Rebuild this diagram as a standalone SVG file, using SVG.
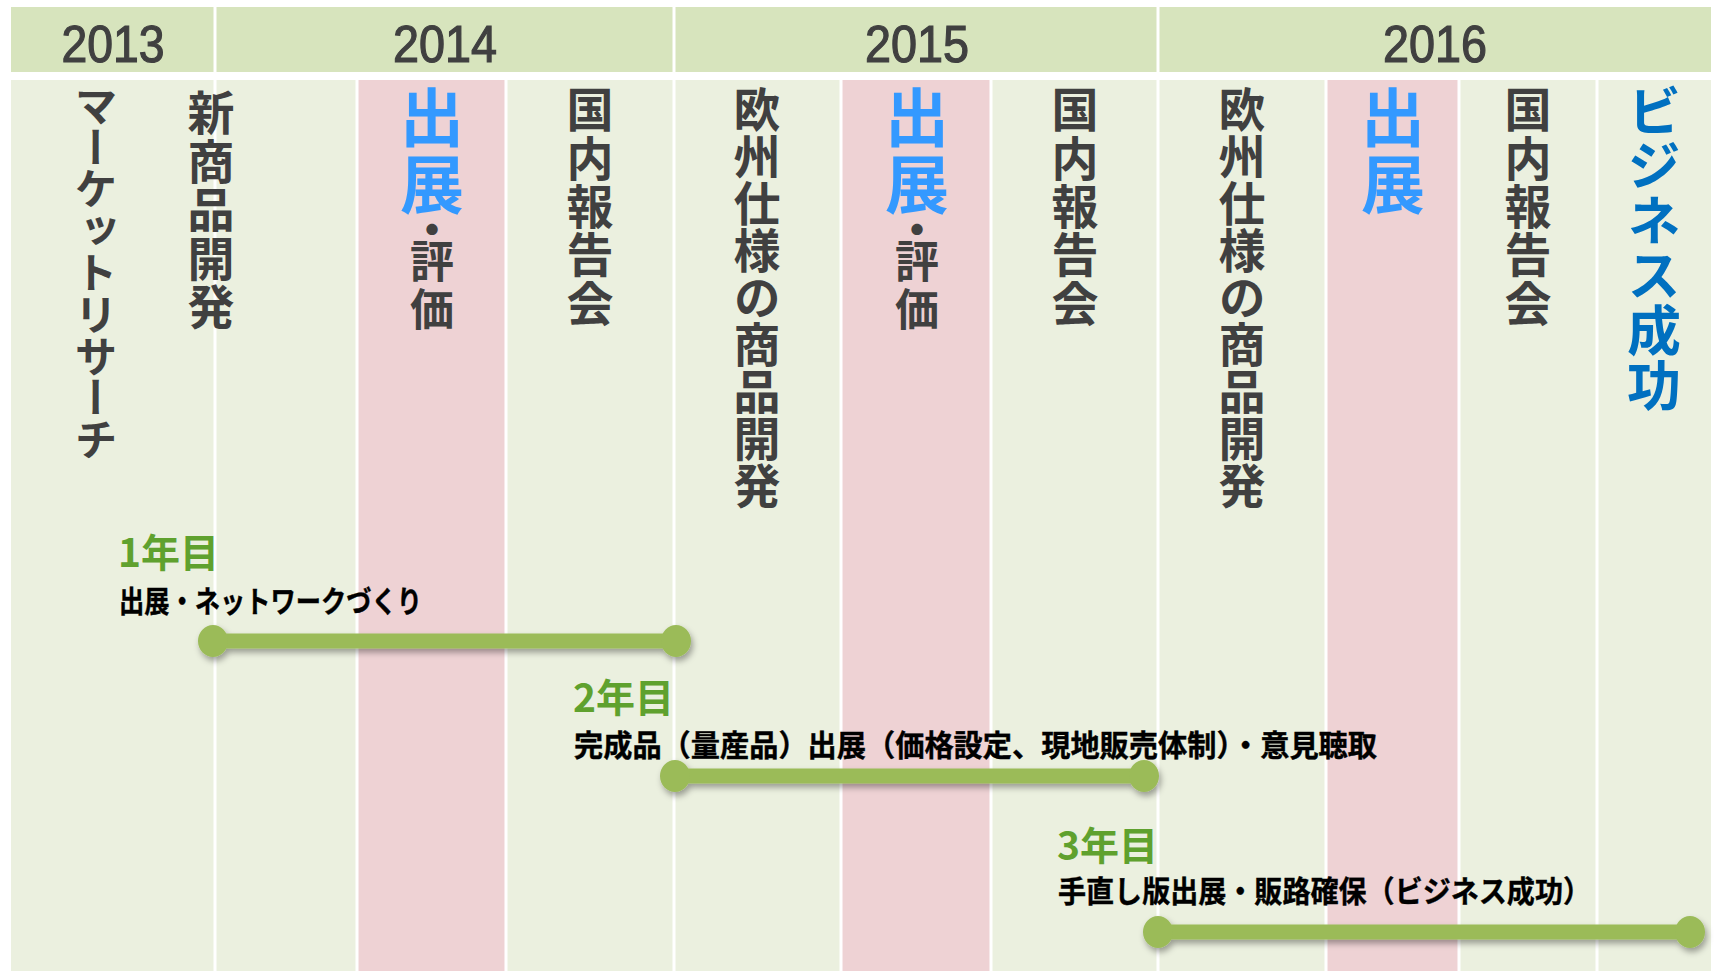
<svg xmlns="http://www.w3.org/2000/svg" width="1714" height="971" viewBox="0 0 1714 971">
<defs>
<style>
.hdr{fill:#D7E4BD}
.body{fill:#EBF0DF}
.pink{fill:#EED2D4}
.div{stroke:#FFFFFF;stroke-width:3}
.yr{font-family:"Liberation Sans",Arial,sans-serif;font-size:52px;fill:#404040;stroke:#404040;stroke-width:1.2px;text-anchor:middle}
.v{font-family:"Noto Sans CJK JP",sans-serif;font-weight:700;writing-mode:vertical-rl;fill:#404040}
.dot2{font-family:"Noto Sans CJK JP",sans-serif;font-weight:700;font-size:44px;fill:#404040;text-anchor:middle;dominant-baseline:central}
.blue{fill:#3399FF}
.dblue{fill:#0070C0}
.yl{font-family:"Noto Sans CJK JP",sans-serif;font-weight:700;font-size:39px;fill:#5FA12E}
.desc{font-family:"Noto Sans CJK JP",sans-serif;font-weight:700;font-size:30px;fill:#000000;stroke:#000000;stroke-width:0.4px}
.bar{stroke:#9BBB59;stroke-width:15}
.end{fill:#9BBB59}
</style>
<filter id="sh" x="-10%" y="-150%" width="120%" height="400%">
<feDropShadow dx="2" dy="4" stdDeviation="3" flood-color="#000000" flood-opacity="0.35"/>
</filter>
</defs>
<rect width="1714" height="971" fill="#FFFFFF"/>
<g id="header">
<rect class="hdr" x="11" y="7" width="1700" height="65"/>
<line class="div" x1="215" y1="7" x2="215" y2="72"/>
<line class="div" x1="674" y1="7" x2="674" y2="72"/>
<line class="div" x1="1158" y1="7" x2="1158" y2="72"/>
<text class="yr" x="113" y="62" textLength="103" lengthAdjust="spacingAndGlyphs">2013</text>
<text class="yr" x="445" y="62" textLength="104" lengthAdjust="spacingAndGlyphs">2014</text>
<text class="yr" x="917" y="62" textLength="104" lengthAdjust="spacingAndGlyphs">2015</text>
<text class="yr" x="1435" y="62" textLength="104" lengthAdjust="spacingAndGlyphs">2016</text>
</g>
<g id="columns">
<rect class="body" x="11" y="80" width="1700" height="891"/>
<rect class="pink" x="357" y="80" width="149" height="891"/>
<rect class="pink" x="841" y="80" width="150" height="891"/>
<rect class="pink" x="1326" y="80" width="133" height="891"/>
<line class="div" x1="215" y1="80" x2="215" y2="971"/>
<line class="div" x1="357" y1="80" x2="357" y2="971"/>
<line class="div" x1="506" y1="80" x2="506" y2="971"/>
<line class="div" x1="674" y1="80" x2="674" y2="971"/>
<line class="div" x1="841" y1="80" x2="841" y2="971"/>
<line class="div" x1="991" y1="80" x2="991" y2="971"/>
<line class="div" x1="1158" y1="80" x2="1158" y2="971"/>
<line class="div" x1="1326" y1="80" x2="1326" y2="971"/>
<line class="div" x1="1459" y1="80" x2="1459" y2="971"/>
<line class="div" x1="1597" y1="80" x2="1597" y2="971"/>
</g>
<g id="col-market-research">
<text class="v" x="96" y="84" style="font-size:43px;letter-spacing:-1.2px">マーケットリサーチ</text>
</g>
<g id="col-new-product">
<text class="v" x="211" y="89" style="font-size:47px;letter-spacing:1.5px">新商品開発</text>
</g>
<g id="col-exhibit-2014">
<text class="v blue" x="432" y="85" style="font-size:64px;letter-spacing:2.7px">出展</text>
<text class="dot2" x="432" y="227">・</text>
<text class="v" x="432" y="239" style="font-size:44px;letter-spacing:4px">評価</text>
</g>
<g id="col-report-2014">
<text class="v" x="590" y="86" style="font-size:47px;letter-spacing:1.3px">国内報告会</text>
</g>
<g id="col-eu-2015">
<text class="v" x="757" y="86" style="font-size:47px;letter-spacing:0px">欧州仕様の商品開発</text>
</g>
<g id="col-exhibit-2015">
<text class="v blue" x="917" y="85" style="font-size:64px;letter-spacing:2.7px">出展</text>
<text class="dot2" x="917" y="227">・</text>
<text class="v" x="917" y="239" style="font-size:44px;letter-spacing:4px">評価</text>
</g>
<g id="col-report-2015">
<text class="v" x="1075" y="86" style="font-size:47px;letter-spacing:1.3px">国内報告会</text>
</g>
<g id="col-eu-2016">
<text class="v" x="1242" y="86" style="font-size:47px;letter-spacing:0px">欧州仕様の商品開発</text>
</g>
<g id="col-exhibit-2016">
<text class="v blue" x="1393" y="85" style="font-size:64px;letter-spacing:2.7px">出展</text>
</g>
<g id="col-report-2016">
<text class="v" x="1528" y="86" style="font-size:47px;letter-spacing:1.3px">国内報告会</text>
</g>
<g id="col-success">
<text class="v dblue" x="1654" y="84" style="font-size:54px;letter-spacing:0.8px">ビジネス成功</text>
</g>
<g id="connectors">
<g id="bar1" filter="url(#sh)">
<line class="bar" x1="213" y1="641" x2="676" y2="641"/>
<ellipse class="end" cx="213" cy="641" rx="15" ry="16"/>
<ellipse class="end" cx="676" cy="641" rx="15" ry="16"/>
</g>
<g id="bar2" filter="url(#sh)">
<line class="bar" x1="675" y1="776" x2="1144" y2="776"/>
<ellipse class="end" cx="675" cy="776" rx="15" ry="16"/>
<ellipse class="end" cx="1144" cy="776" rx="15" ry="16"/>
</g>
<g id="bar3" filter="url(#sh)">
<line class="bar" x1="1158" y1="932" x2="1690" y2="932"/>
<ellipse class="end" cx="1158" cy="932" rx="15" ry="16"/>
<ellipse class="end" cx="1690" cy="932" rx="15" ry="16"/>
</g>
</g>
<g id="year1">
<text class="yl" x="118" y="567">1年目</text>
<text class="desc" x="119" y="612" textLength="303" lengthAdjust="spacingAndGlyphs">出展・ネットワークづくり</text>
</g>
<g id="year2">
<text class="yl" x="573" y="712">2年目</text>
<text class="desc" x="574" y="756" textLength="803" lengthAdjust="spacingAndGlyphs">完成品（量産品）出展（価格設定、現地販売体制）・意見聴取</text>
</g>
<g id="year3">
<text class="yl" x="1057" y="860">3年目</text>
<text class="desc" x="1058" y="902" textLength="533" lengthAdjust="spacingAndGlyphs">手直し版出展・販路確保（ビジネス成功）</text>
</g>
</svg>
